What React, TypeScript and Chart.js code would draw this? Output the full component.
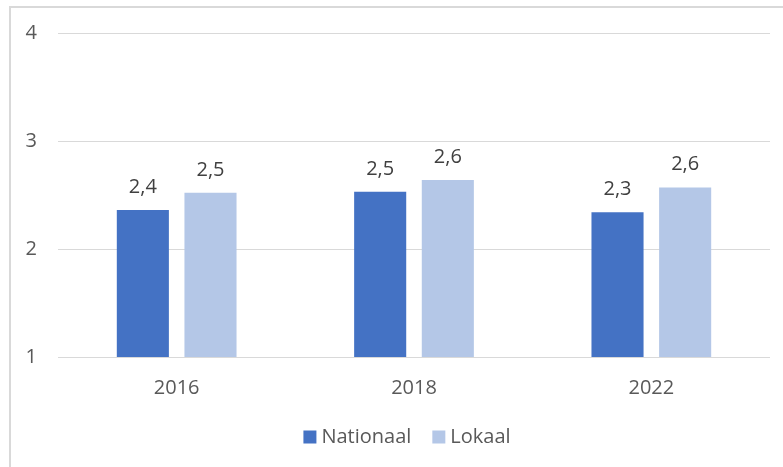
import React, { useEffect, useRef } from "react";
import { Chart, registerables } from "chart.js";

Chart.register(...registerables);

const categories = ["2016", "2018", "2022"];
const nationaal = [2.36, 2.53, 2.34];
const lokaal = [2.52, 2.64, 2.57];
const yTicks = [1, 2, 3, 4];
const seriesNames = ["Nationaal", "Lokaal"];
const seriesColors = ["#4472C4", "#B4C7E7"];

const FONT = "'Open Sans', 'Liberation Sans', Arial, sans-serif";

const dataLabels = {
  id: "dataLabels",
  afterDatasetsDraw(chart: any) {
    const ctx = chart.ctx;
    ctx.save();
    ctx.font = `20px ${FONT}`;
    ctx.fillStyle = "#404040";
    ctx.textAlign = "center";
    ctx.textBaseline = "alphabetic";
    chart.data.datasets.forEach((ds: any, i: number) => {
      const meta = chart.getDatasetMeta(i);
      meta.data.forEach((el: any, j: number) => {
        const v = ds.data[j] as number;
        ctx.fillText(v.toFixed(1).replace(".", ","), el.x, el.y - 17);
      });
    });
    ctx.restore();
  },
};

const customLegend = {
  id: "customLegend",
  afterDraw(chart: any) {
    const ctx = chart.ctx;
    ctx.save();
    ctx.font = `20px ${FONT}`;
    const box = 13;
    const gap = 5;
    const itemGap = 21;
    const widths = chart.data.datasets.map((ds: any) => ctx.measureText(ds.label).width);
    const total = widths.reduce((a: number, w: number) => a + box + gap + w, 0) + itemGap * (widths.length - 1);
    const cx = (chart.chartArea.left + chart.chartArea.right) / 2 - 7;
    let x = cx - total / 2;
    const y = chart.chartArea.bottom + 80;
    ctx.textBaseline = "middle";
    ctx.textAlign = "left";
    chart.data.datasets.forEach((ds: any, i: number) => {
      ctx.fillStyle = ds.backgroundColor;
      ctx.fillRect(x, y - box / 2, box, box);
      x += box + gap;
      ctx.fillStyle = "#595959";
      ctx.fillText(ds.label, x, y);
      x += widths[i] + itemGap;
    });
    ctx.restore();
  },
};

export default function App() {
  const ref = useRef<HTMLCanvasElement>(null);
  useEffect(() => {
    if (!ref.current) return;
    const chart = new Chart(ref.current, {
      type: "bar",
      data: {
        labels: categories,
        datasets: [
          { label: seriesNames[0], data: nationaal, backgroundColor: seriesColors[0] },
          { label: seriesNames[1], data: lokaal, backgroundColor: seriesColors[1] },
        ],
      },
      options: {
        animation: false,
        responsive: false,
        maintainAspectRatio: false,
        layout: { padding: { left: 0, right: 13, top: 25, bottom: 70 } },
        datasets: { bar: { categoryPercentage: 0.57, barPercentage: 0.77 } },
        plugins: {
          tooltip: { enabled: false },
          legend: { display: false },
        },
        scales: {
          x: {
            grid: { display: false },
            border: { display: false },
            ticks: { color: "#595959", font: { family: FONT, size: 20 }, padding: 11 },
            afterFit: (s: any) => {
              s.height = 40;
            },
          },
          y: {
            min: 1,
            max: 4,
            afterBuildTicks: (s: any) => {
              s.ticks = yTicks.map((v) => ({ value: v }));
            },
            afterFit: (s: any) => {
              s.width = 58;
            },
            grid: { color: "#d9d9d9", lineWidth: 1, drawTicks: false },
            border: { display: false },
            ticks: { color: "#595959", font: { family: FONT, size: 20 }, padding: 21 },
          },
        },
      },
      plugins: [dataLabels, customLegend],
    } as any);
    return () => chart.destroy();
  }, []);
  return (
    <div style={{ position: "fixed", left: 0, top: 0, width: 783, height: 467, background: "#fff", overflow: "hidden" }}>
      <div style={{ position: "absolute", left: 9, top: 6, width: 820, height: 520, border: "2px solid #d9d9d9", boxSizing: "border-box" }} />
      <canvas ref={ref} width={783} height={467} style={{ position: "absolute", left: 0, top: 0 }} />
    </div>
  );
}
